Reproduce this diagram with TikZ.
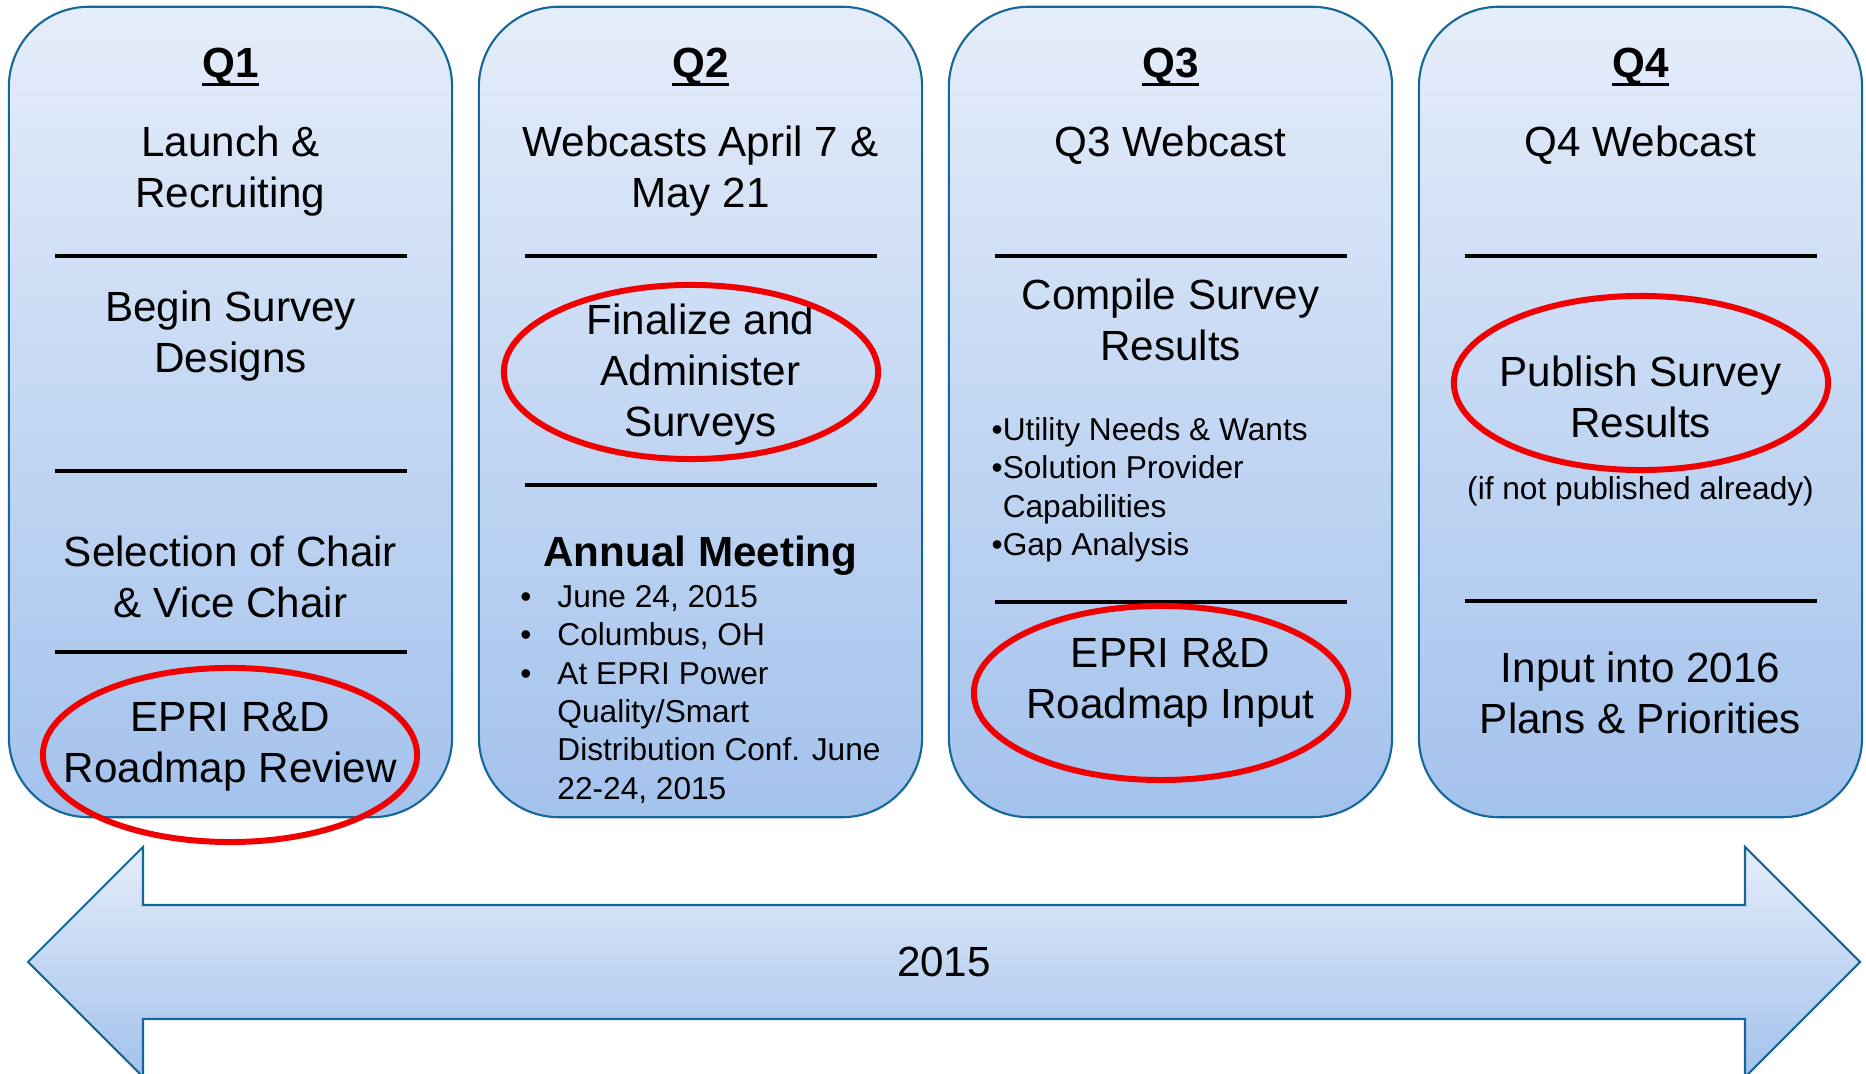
\documentclass[tikz,border=0pt]{standalone}
\usepackage{fontspec}
\setmainfont{Liberation Sans}
\usetikzlibrary{positioning,shapes.geometric}

\definecolor{boxline}{RGB}{22,103,153}
\definecolor{fadetop}{RGB}{229,237,250}
\definecolor{fadebot}{RGB}{163,194,236}
\definecolor{ringred}{RGB}{240,0,0}

\newcommand\qhead[1]{\setbox0\hbox{\bfseries #1}\rlap{\rule[-2.3pt]{\wd0}{.9pt}}\box0}
\newcommand\blt{\makebox[.37cm][l]{\textbullet}}

\begin{document}
\begin{tikzpicture}
        [ x = .01cm, y = -.01cm
        , qbox/.style =
          { draw = boxline, line width = .6pt, rounded corners = .8cm
          , top color = fadetop, bottom color = fadebot
          , minimum width = 4.43cm, minimum height = 8.1cm }
        , bigtext/.style =
          { align = center, inner sep = 0pt, font = \fontsize{12}{14.5}\selectfont }
        , smalltext/.style =
          { align = left, inner sep = 0pt, font = \fontsize{9}{10.9}\selectfont }
        , divider/.style =
          { line width = .9pt }
        , ring/.style =
          { draw = ringred, line width = 1.7pt, ellipse, inner sep = 0pt
          , minimum width = 3.74cm, minimum height = 1.74cm }
        , timeline/.style =
          { draw = boxline, line width = .6pt, top color = fadetop, bottom color = fadebot }
        ]
        \useasboundingbox (0,0) rectangle (1866,1074);

        % quarters
        \node [qbox] (q1box) at (230.5,412) {};
        \node [qbox] (q2box) at (700.5,412) {};
        \node [qbox] (q3box) at (1170.5,412) {};
        \node [qbox] (q4box) at (1640.5,412) {};

        \node [bigtext] (q1t) [below=.42cm of q1box.north] {\qhead{Q1}};
        \node [bigtext] (q2t) [below=.42cm of q2box.north] {\qhead{Q2}};
        \node [bigtext] (q3t) [below=.42cm of q3box.north] {\qhead{Q3}};
        \node [bigtext] (q4t) [below=.42cm of q4box.north] {\qhead{Q4}};

        % Q1
        \node [bigtext] (q1launch) at (230.5,171.5) {Launch \&\\Recruiting};
        \draw [divider] (54.5,256) -- (406.5,256);
        \node [bigtext] (q1begin) at (230.5,336.5) {Begin Survey\\Designs};
        \draw [divider] (54.5,471) -- (406.5,471);
        \node [bigtext] (q1chair) at (230.5,576.5) {Selection of Chair\\\& Vice Chair};
        \draw [divider] (54.5,652) -- (406.5,652);
        \node [bigtext] (q1review) at (230.5,746.5) {EPRI R\&D\\Roadmap Review};
        \node [ring] (q1ring) at (230,755) {};

        % Q2
        \node [bigtext] (q2web) at (700.5,171.5) {Webcasts April 7 \&\\May 21};
        \draw [divider] (524.5,256) -- (876.5,256);
        \node [bigtext] (q2admin) at (700.5,375) {Finalize and\\Administer\\Surveys};
        \node [ring] (q2ring) at (691,372) {};
        \draw [divider] (524.5,485) -- (876.5,485);
        \node [bigtext, font = \fontsize{12}{14.5}\selectfont\bfseries, anchor = base] (q2meet) at (700.5,567) {Annual Meeting};
        \node [smalltext] (q2list) [below=.08cm of q2meet]
          {\blt June 24, 2015\\
           \blt Columbus, OH\\
           \blt At EPRI Power\\
           \hspace*{.37cm}Quality/Smart\\
           \hspace*{.37cm}Distribution Conf. June\\
           \hspace*{.37cm}22-24, 2015};

        % Q3
        \node [bigtext, anchor = base] (q3web) at (1170.5,157) {Q3 Webcast};
        \draw [divider] (994.5,256) -- (1346.5,256);
        \node [bigtext] (q3compile) at (1170.5,320) {Compile Survey\\Results};
        \node [smalltext, anchor = north west] (q3list) at (991,417)
          {\textbullet Utility Needs \& Wants\\
           \textbullet Solution Provider\\
           \phantom{\textbullet}Capabilities\\
           \textbullet Gap Analysis};
        \draw [divider] (994.5,602) -- (1346.5,602);
        \node [bigtext] (q3input) at (1170.5,683) {EPRI R\&D\\Roadmap Input};
        \node [ring] (q3ring) at (1161,693) {};

        % Q4
        \node [bigtext, anchor = base] (q4web) at (1640.5,157) {Q4 Webcast};
        \draw [divider] (1464.5,256) -- (1816.5,256);
        \node [bigtext] (q4pub) at (1640.5,397) {Publish Survey\\Results};
        \node [ring] (q4ring) at (1641,383) {};
        \node [smalltext] (q4note) [below=.37cm of q4pub] {(if not published already)};
        \draw [divider] (1464.5,601) -- (1816.5,601);
        \node [bigtext] (q4plans) at (1640.5,693) {Input into 2016\\Plans \& Priorities};

        % year arrow
        \draw [timeline] (28,962) -- (143,847) -- (143,905) -- (1745,905) -- (1745,847)
          -- (1860,962) -- (1745,1077) -- (1745,1019) -- (143,1019) -- (143,1077) -- cycle;
        \node [bigtext] (year) at (944,962) {2015};
\end{tikzpicture}
\end{document}
